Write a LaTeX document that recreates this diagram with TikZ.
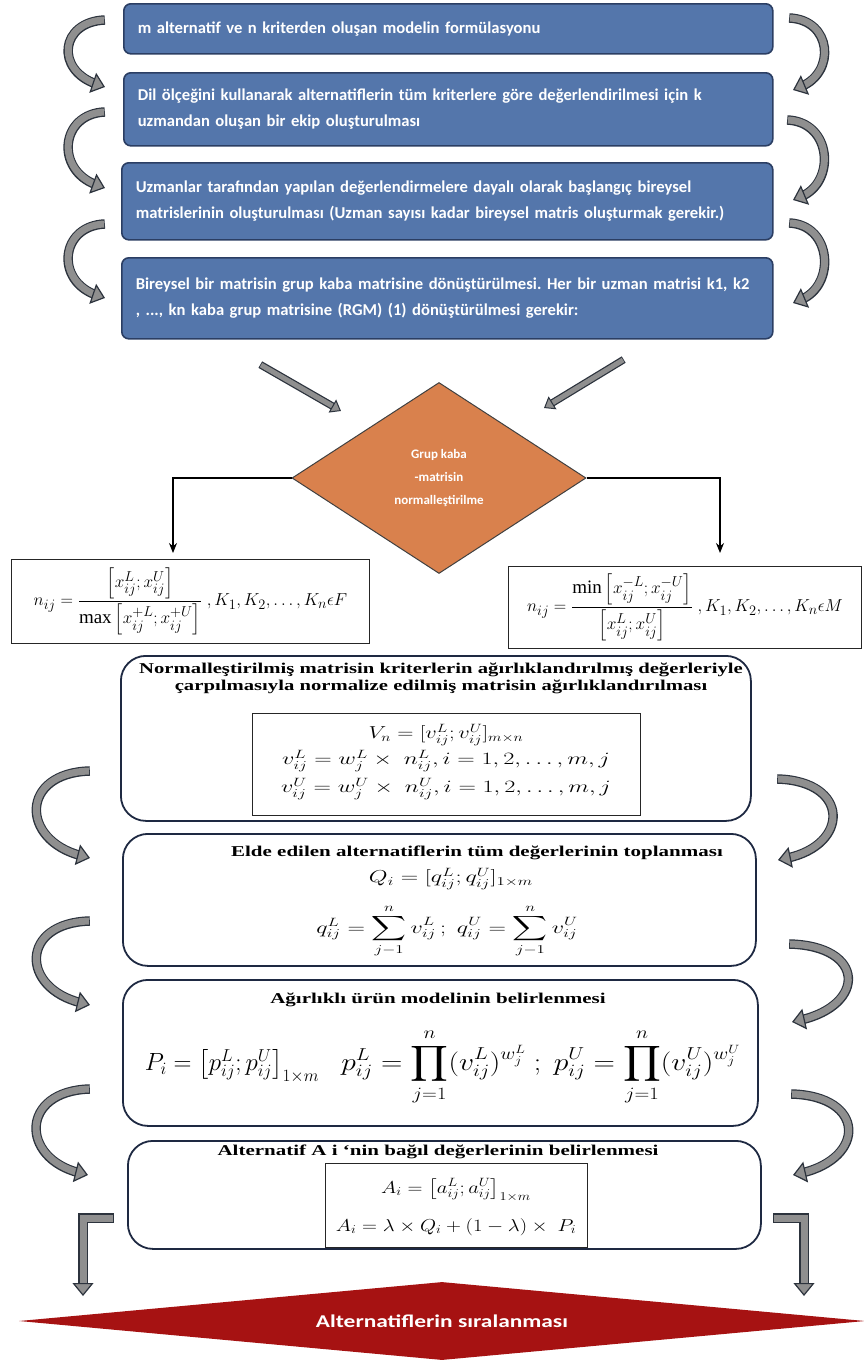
\documentclass[tikz,border=0pt]{standalone}
\usepackage{fontspec}
\usepackage{amsmath}
\usepackage{graphicx}
\setmainfont{Liberation Serif}
\newfontfamily\carlito{Carlito}
\usetikzlibrary{arrows.meta,shapes.geometric}
\definecolor{boxblue}{HTML}{5476AB}
\definecolor{boxedge}{HTML}{2B3E63}
\definecolor{diaor}{HTML}{D9814D}
\definecolor{arrfill}{HTML}{8F8F8F}
\definecolor{arredge}{HTML}{2C333D}
\definecolor{navy}{HTML}{1E2942}
\definecolor{darkred}{HTML}{A61212}
\tikzset{
  bluebox/.style={draw=boxedge,line width=1.6pt,fill=boxblue,rounded corners=7pt,
    inner xsep=14pt,inner ysep=0pt,align=left,text=white,anchor=north west,
    font=\carlito\bfseries\fontsize{16.6}{26}\selectfont},
  lowbox/.style={draw=navy,line width=1.8pt,rounded corners=25pt,anchor=north west,inner sep=0pt},
  fbox/.style={draw=black!85,line width=1pt,fill=white,anchor=north west,inner sep=0pt},
  ttl/.style={inner sep=0pt,font=\bfseries\fontsize{15}{17}\selectfont},
  fml/.style={inner sep=0pt,font=\fontsize{18}{22}\selectfont},
  conn/.style={draw=black,line width=1.3pt,-{Stealth[length=10pt,width=8pt]}},
  bandout/.style={draw=arredge,line width=9.5pt,shorten >=9pt,shorten <=-0.8pt,line join=miter},
  bandin/.style={draw=arrfill,line width=7pt,shorten >=8pt,line join=miter},
  bandtip/.style={draw=arrfill,line width=0.5pt,
    -{Triangle[length=13pt,width=21pt,color=arredge,fill=arrfill,line width=1.2pt]}},
  thinout/.style={draw=arredge,line width=7.5pt,shorten >=7pt,shorten <=-0.8pt},
  thinin/.style={draw=arrfill,line width=5pt,shorten >=6pt},
  thintip/.style={draw=arrfill,line width=0.5pt,
    -{Triangle[length=10pt,width=15pt,color=arredge,fill=arrfill,line width=1pt]}},
}
\newcommand{\grayarrow}[1]{\draw[bandout] #1;\draw[bandin] #1;\draw[bandtip] #1;}
\newcommand{\thinarrow}[1]{\draw[thinout] #1;\draw[thinin] #1;\draw[thintip] #1;}
\frenchspacing
\begin{document}
\begin{tikzpicture}[x=1pt,y=-1pt]
\useasboundingbox (0,0) rectangle (864,1360);

% ---------- blue boxes ----------
\node[bluebox,text width=621pt,minimum height=50pt] (b1) at (123,3)
  {m alternatif ve n kriterden oluşan modelin formülasyonu};
\node[bluebox,text width=621pt,minimum height=73pt] (b2) at (123,72)
  {Dil ölçeğini kullanarak alternatiflerin tüm kriterlere göre değerlendirilmesi için k\\uzmandan oluşan bir ekip oluşturulması};
\node[bluebox,text width=623pt,minimum height=77pt] (b3) at (121,162)
  {Uzmanlar tarafından yapılan değerlendirmelere dayalı olarak başlangıç bireysel\\matrislerinin oluşturulması (Uzman sayısı kadar bireysel matris oluşturmak gerekir.)};
\node[bluebox,text width=623pt,minimum height=81pt] (b4) at (121,257)
  {Bireysel bir matrisin grup kaba matrisine dönüştürülmesi. Her bir uzman matrisi k1, k2\\, ..., kn kaba grup matrisine (RGM) (1) dönüştürülmesi gerekir:};

% ---------- curved arrows (top) ----------
\coordinate (l1s) at (104,20);  \coordinate (l1e) at (105,87);
\coordinate (l2s) at (104,112); \coordinate (l2e) at (105,188);
\coordinate (l3s) at (104,224); \coordinate (l3e) at (105,298);
\coordinate (r1s) at (790,18);  \coordinate (r1e) at (793,90);
\coordinate (r2s) at (788,120); \coordinate (r2e) at (793,200);
\coordinate (r3s) at (790,223); \coordinate (r3e) at (793,303);
\grayarrow{(l1s) .. controls +(-44,2) and +(-50,-17) .. (l1e)}
\grayarrow{(l2s) .. controls +(-44,2) and +(-50,-18) .. (l2e)}
\grayarrow{(l3s) .. controls +(-44,2) and +(-50,-17) .. (l3e)}
\grayarrow{(r1s) .. controls +(42,2) and +(43,-18) .. (r1e)}
\grayarrow{(r2s) .. controls +(44,2) and +(43,-18) .. (r2e)}
\grayarrow{(r3s) .. controls +(42,2) and +(43,-18) .. (r3e)}

% ---------- diamond ----------
\node[diamond,draw=black!75,line width=1pt,fill=diaor,aspect=1.54,inner sep=0pt,
  minimum width=294pt,minimum height=191pt,align=center,text=white,
  font=\carlito\bfseries\fontsize{13}{23}\selectfont] (dia) at (439,478)
  {Grup kaba\\-matrisin\\normalleştirilme};
\coordinate (d1s) at (261,365); \coordinate (d1e) at (341,411);
\coordinate (d2s) at (623,360); \coordinate (d2e) at (544,408);
\thinarrow{(d1s) -- (d1e)}
\thinarrow{(d2s) -- (d2e)}

% ---------- formula boxes ----------
\node[fbox,minimum width=358pt,minimum height=84pt] (fl) at (11,559) {};
\node[fbox,minimum width=353pt,minimum height=82pt] (fr) at (508,566) {};
\node[inner sep=0pt,font=\fontsize{19}{23}\selectfont] (flt) at (fl.center)
  {$n_{ij}=\dfrac{\left[x^{L}_{ij};x^{U}_{ij}\right]}{\max\left[x^{+L}_{ij};x^{+U}_{ij}\right]}\ ,K_1,K_2,\dots,K_n\epsilon F$};
\node[inner sep=0pt,font=\fontsize{19}{23}\selectfont] (frt) at (fr.center)
  {$n_{ij}=\dfrac{\min\left[x^{-L}_{ij};x^{-U}_{ij}\right]}{\left[x^{L}_{ij};x^{U}_{ij}\right]}\ ,K_1,K_2,\dots,K_n\epsilon M$};
\coordinate (la) at (173,553);
\coordinate (ra) at (720,553);
\draw[conn] (dia.west) -| (la);
\draw[conn] (dia.east) -| (ra);

% ---------- lower boxes ----------
\node[lowbox,minimum width=630pt,minimum height=165pt] (lb1) at (120,655) {};
\node[lowbox,minimum width=633pt,minimum height=132pt] (lb2) at (122,833) {};
\node[lowbox,minimum width=635pt,minimum height=146pt] (lb3) at (122,979) {};
\node[lowbox,minimum width=633pt,minimum height=108pt] (lb4) at (127,1140) {};

\node[ttl] (t1a) at (441,670) {\scalebox{1.38}[1]{Normalleştirilmiş matrisin kriterlerin ağırlıklandırılmış değerleriyle}};
\node[ttl] (t1b) at (441,687) {\scalebox{1.38}[1]{çarpılmasıyla normalize edilmiş matrisin ağırlıklandırılması}};
\node[fbox,minimum width=388pt,minimum height=102pt] (ib1) at (252,713) {};
\node[fml] (f1a) at (446,735) {\scalebox{1.3}[1]{$V_n=[v^L_{ij};v^U_{ij}]_{m\times n}$}};
\node[fml] (f1b) at (446,761) {\scalebox{1.4}[1]{$v^L_{ij}=w^L_j\times\ n^L_{ij},i=1,2,\dots,m,j$}};
\node[fml] (f1c) at (446,789) {\scalebox{1.4}[1]{$v^U_{ij}=w^U_j\times\ n^U_{ij},i=1,2,\dots,m,j$}};

\node[ttl] (t2) at (477,853) {\scalebox{1.4}[1]{Elde edilen alternatiflerin tüm değerlerinin toplanması}};
\node[inner sep=0pt,font=\fontsize{18.5}{22}\selectfont] (f2a) at (451,879) {\scalebox{1.4}[1]{$Q_i=[q^L_{ij};q^U_{ij}]_{1\times m}$}};
\node[inner sep=0pt,font=\fontsize{18.5}{22}\selectfont] (f2b) at (447,931) {\scalebox{1.4}[1]{$q^L_{ij}=\displaystyle\sum_{j-1}^{n}v^L_{ij}\,;\;q^U_{ij}=\sum_{j-1}^{n}v^U_{ij}$}};

\node[ttl] (t3) at (438,1000) {\scalebox{1.4}[1]{Ağırlıklı ürün modelinin belirlenmesi}};
\node[inner sep=0pt,font=\fontsize{26}{30}\selectfont] (f3a) at (232,1066)
  {$P_i=\left[p^L_{ij};p^U_{ij}\right]_{1\times m}$};
\node[inner sep=0pt,font=\fontsize{26}{30}\selectfont] (f3b) at (541,1067)
  {\scalebox{1.19}[1]{$p^L_{ij}=\displaystyle\prod_{j=1}^{n}(v^L_{ij})^{w^L_j}\ ;\ p^U_{ij}=\prod_{j=1}^{n}(v^U_{ij})^{w^U_j}$}};

\node[ttl] (t4) at (438,1152) {\scalebox{1.4}[1]{Alternatif A i ‘nin bağıl değerlerinin belirlenmesi}};
\node[fbox,minimum width=262pt,minimum height=84pt] (ib4) at (325,1163) {};
\node[inner sep=0pt,font=\fontsize{17.5}{21}\selectfont] (f4a) at (456,1190) {\scalebox{1.2}[1]{$A_i=\left[a^L_{ij};a^U_{ij}\right]_{1\times m}$}};
\node[inner sep=0pt,font=\fontsize{17.5}{21}\selectfont] (f4b) at (456,1227) {\scalebox{1.2}[1]{$A_i=\lambda\times Q_i+(1-\lambda)\times\ P_i$}};

% ---------- curved arrows (bottom) ----------
\coordinate (l4s) at (89,771);  \coordinate (l4e) at (90,858);
\coordinate (l5s) at (89,921);  \coordinate (l5e) at (90,1005);
\coordinate (l6s) at (89,1089); \coordinate (l6e) at (88,1175);
\coordinate (r4s) at (778,779); \coordinate (r4e) at (778,860);
\coordinate (r5s) at (790,944); \coordinate (r5e) at (792,1022);
\coordinate (r6s) at (792,1094);\coordinate (r6e) at (793,1175);
\grayarrow{(l4s) .. controls +(-69,2) and +(-70,-18) .. (l4e)}
\grayarrow{(l5s) .. controls +(-69,2) and +(-70,-17) .. (l5e)}
\grayarrow{(l6s) .. controls +(-69,2) and +(-68,-17) .. (l6e)}
\grayarrow{(r4s) .. controls +(72,2) and +(72,-15) .. (r4e)}
\grayarrow{(r5s) .. controls +(76,2) and +(74,-17) .. (r5e)}
\grayarrow{(r6s) .. controls +(74,2) and +(73,-17) .. (r6e)}

% ---------- final ----------
\node[diamond,fill=darkred,aspect=10.8,inner sep=0pt,minimum width=846pt,minimum height=78pt,
  text=white,font=\carlito\bfseries\fontsize{18}{21}\selectfont] (fin) at (442,1321)
  {\scalebox{1.3}[1]{Alternatiflerin sıralanması}};
\coordinate (lbs) at (113,1218); \coordinate (lbe) at (83,1296);
\coordinate (rbs) at (774,1218); \coordinate (rbe) at (804,1296);
\grayarrow{(lbs) -| (lbe)}
\grayarrow{(rbs) -| (rbe)}
\end{tikzpicture}
\end{document}
